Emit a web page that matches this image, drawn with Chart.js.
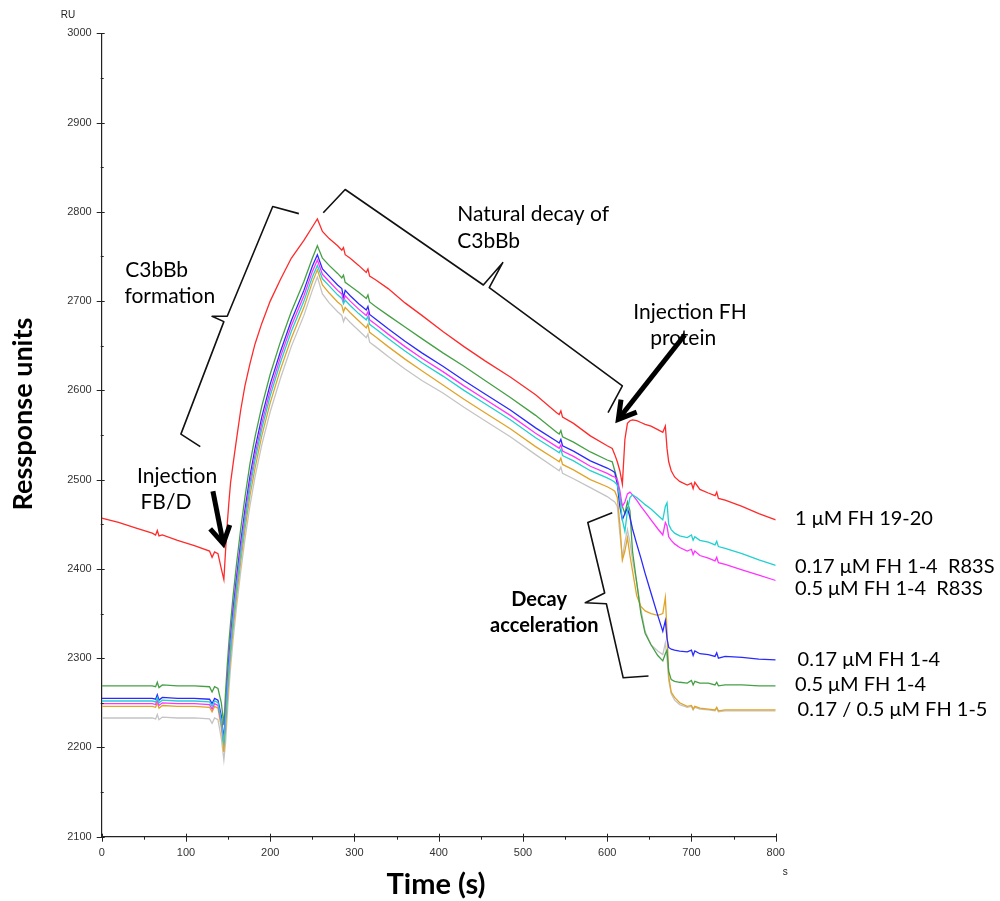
<!DOCTYPE html>
<html>
<head>
<meta charset="utf-8">
<script src="https://cdn.jsdelivr.net/npm/chart.js@4.4.1/dist/chart.umd.min.js"></script>
<style>
  body { margin: 0; background: #fff; }
  canvas { display: block; }
</style>
</head>
<body>
<canvas id="myChart" width="1000" height="901"></canvas>
<script>
// time points (s), shared by every sensorgram
const times = [
  0, 20, 40, 60, 64, 66, 68, 72, 90, 110,
  128, 131, 134, 138, 142, 145, 147, 149, 151, 153,
  156, 160, 165, 170, 176, 182, 190, 200, 212, 225,
  240, 250, 256, 262, 270, 280, 285, 287, 289, 295,
  305, 314, 316, 318, 325, 340, 360, 380, 405, 430,
  455, 485, 515, 540, 543, 545, 547, 560, 580, 600,
  606, 609, 612, 615, 618, 621, 624, 627, 630, 635,
  640, 645, 652, 660, 666, 669, 671, 673, 676, 680,
  686, 695, 700, 702, 704, 710, 720, 728, 730, 732,
  740, 760, 780, 800
];

// response units per series
const fh1920 = [
  2457, 2452, 2446, 2440, 2438, 2443, 2437, 2438, 2432, 2426,
  2420, 2413, 2419, 2417, 2400, 2388, 2420, 2450, 2475, 2497,
  2518, 2545, 2578, 2605, 2630, 2652, 2675, 2700, 2724, 2748,
  2768, 2783, 2792, 2778, 2770, 2762, 2757, 2760, 2752, 2748,
  2740, 2732, 2736, 2728, 2724, 2714, 2698, 2684, 2666, 2649,
  2633, 2615, 2595, 2575, 2573, 2577, 2570, 2563, 2549, 2538,
  2535, 2528, 2520, 2510, 2495, 2545, 2563, 2566, 2567, 2566,
  2564, 2562, 2560, 2556, 2553, 2560, 2535, 2520, 2510, 2503,
  2498, 2494, 2496, 2490, 2497, 2489, 2485, 2482, 2486, 2479,
  2477, 2470, 2462, 2455
];
const fh14r83s017 = [
  2252, 2252, 2252, 2252, 2251, 2256, 2250, 2253, 2252, 2252,
  2251, 2246, 2252, 2250, 2230, 2203, 2230, 2260, 2287, 2311,
  2342, 2377, 2417, 2453, 2491, 2522, 2557, 2594, 2631, 2666,
  2700, 2727, 2740, 2725, 2717, 2707, 2703, 2697, 2701, 2695,
  2686, 2679, 2683, 2674, 2669, 2658, 2644, 2631, 2616, 2600,
  2585, 2567, 2547, 2532, 2530, 2534, 2527, 2521, 2510, 2502,
  2499, 2497, 2494, 2480, 2455, 2442, 2465, 2480, 2483, 2480,
  2476, 2472, 2467, 2460, 2455, 2470, 2474, 2450, 2444, 2440,
  2437, 2435, 2438, 2432, 2436, 2432, 2430, 2427, 2431, 2425,
  2423, 2417, 2410, 2404
];
const fh14r83s05 = [
  2249, 2249, 2249, 2249, 2248, 2253, 2247, 2250, 2249, 2249,
  2248, 2243, 2249, 2247, 2228, 2205, 2235, 2265, 2293, 2317,
  2348, 2383, 2423, 2459, 2497, 2528, 2563, 2600, 2637, 2672,
  2706, 2733, 2746, 2730, 2722, 2712, 2708, 2700, 2706, 2700,
  2691, 2684, 2688, 2679, 2674, 2663, 2649, 2636, 2621, 2605,
  2590, 2572, 2552, 2537, 2535, 2539, 2532, 2526, 2515, 2507,
  2504, 2503, 2500, 2488, 2470, 2475, 2484, 2486, 2483, 2477,
  2470, 2464, 2455, 2445, 2438, 2452, 2448, 2436, 2432, 2428,
  2424, 2420, 2422, 2416, 2420, 2415, 2412, 2409, 2413, 2407,
  2405, 2399, 2393, 2387
];
const fh14017 = [
  2255, 2255, 2255, 2255, 2254, 2259, 2253, 2256, 2255, 2255,
  2254, 2249, 2255, 2253, 2235, 2208, 2240, 2272, 2300, 2324,
  2355, 2390, 2430, 2466, 2504, 2535, 2570, 2607, 2643, 2678,
  2712, 2739, 2752, 2736, 2728, 2718, 2714, 2704, 2712, 2706,
  2697, 2690, 2694, 2685, 2680, 2669, 2655, 2642, 2627, 2611,
  2596, 2578, 2558, 2543, 2541, 2545, 2538, 2532, 2521, 2513,
  2510, 2508, 2495, 2470, 2455, 2462, 2468, 2458, 2445, 2428,
  2412, 2395, 2373, 2348, 2330, 2342, 2322, 2312, 2310, 2309,
  2308, 2307, 2309, 2303, 2308, 2305, 2304, 2302, 2306, 2300,
  2302, 2301, 2299, 2298
];
const fh1405 = [
  2269, 2269, 2269, 2269, 2268, 2273, 2267, 2270, 2269, 2269,
  2268, 2262, 2268, 2266, 2250, 2225, 2262, 2292, 2318, 2340,
  2370, 2405, 2445, 2480, 2518, 2548, 2582, 2618, 2654, 2688,
  2722, 2748, 2762, 2748, 2740, 2731, 2726, 2729, 2721, 2717,
  2710, 2703, 2707, 2699, 2694, 2684, 2671, 2658, 2642, 2627,
  2611, 2592, 2572, 2553, 2551, 2555, 2548, 2542, 2531, 2522,
  2520, 2510, 2500, 2480, 2470, 2462, 2475, 2465, 2420, 2385,
  2350, 2328, 2315, 2303, 2297, 2305, 2309, 2285, 2276, 2274,
  2273, 2272, 2275, 2270, 2274, 2272, 2272, 2270, 2273, 2269,
  2270, 2270, 2269, 2269
];
const fh15017 = [
  2246, 2246, 2246, 2246, 2245, 2250, 2244, 2247, 2246, 2246,
  2245, 2240, 2246, 2244, 2222, 2195, 2220, 2250, 2278, 2302,
  2333, 2368, 2408, 2444, 2482, 2513, 2549, 2586, 2623, 2658,
  2693, 2721, 2735, 2718, 2709, 2699, 2695, 2688, 2693, 2687,
  2678, 2670, 2674, 2665, 2660, 2649, 2635, 2622, 2606, 2590,
  2575, 2557, 2537, 2522, 2520, 2524, 2517, 2511, 2500, 2492,
  2489, 2487, 2480, 2450, 2410, 2420, 2435, 2415, 2398, 2370,
  2358, 2353, 2350, 2348, 2350, 2368, 2330, 2280, 2262, 2256,
  2250, 2246, 2247, 2243, 2246, 2244, 2243, 2242, 2245, 2241,
  2242, 2242, 2242, 2242
];
const fh1505 = [
  2233, 2233, 2233, 2233, 2232, 2237, 2231, 2234, 2233, 2233,
  2232, 2227, 2233, 2231, 2210, 2186, 2205, 2236, 2265, 2290,
  2321, 2357, 2397, 2433, 2471, 2503, 2539, 2576, 2613, 2649,
  2684, 2712, 2727, 2708, 2698, 2688, 2684, 2677, 2682, 2676,
  2667, 2659, 2663, 2654, 2649, 2638, 2624, 2611, 2597, 2581,
  2566, 2548, 2528, 2512, 2510, 2514, 2507, 2501, 2491, 2481,
  2477, 2475, 2470, 2440, 2412, 2430, 2444, 2430, 2410, 2385,
  2355, 2330, 2315, 2308, 2304, 2317, 2300, 2275, 2260, 2253,
  2248, 2245, 2246, 2242, 2245, 2243, 2242, 2241, 2244, 2240,
  2241, 2241, 2241, 2241
];

const seriesNames = ["1 μM FH 19-20", "0.17 μM FH 1-4 R83S", "0.5 μM FH 1-4 R83S",
  "0.17 μM FH 1-4", "0.5 μM FH 1-4", "0.17 μM FH 1-5", "0.5 μM FH 1-5"];
const seriesValues = [fh1920, fh14r83s017, fh14r83s05, fh14017, fh1405, fh15017, fh1505];
const seriesColors = ["#ff2a2a", "#22d0d0", "#ff33ff", "#2a2aff", "#45a045", "#e0a428", "#c4c4c4"];

// labels written at the right hand end of the curves: [text, time, RU]
const endLabels = [
  ["1 μM FH 19-20", 823, 2456],
  ["0.17 μM FH 1-4  R83S", 823, 2403],
  ["0.5 μM FH 1-4  R83S", 823, 2378],
  ["0.17 μM FH 1-4", 826, 2299],
  ["0.5 μM FH 1-4", 823, 2270],
  ["0.17 / 0.5 μM FH 1-5", 826, 2242]
];
// annotation texts: [text, time, RU, bold]
const notes = [
  ["C3bBb", 28, 2735, false],
  ["formation", 27, 2705, false],
  ["Natural decay of", 422, 2797, false],
  ["C3bBb", 422, 2767, false],
  ["Injection FH", 631, 2687, false],
  ["protein", 651, 2658, false],
  ["Injection", 42, 2504, false],
  ["FB/D", 46, 2475, false],
  ["Decay", 486, 2366, true],
  ["acceleration", 461, 2336, true]
];
// brackets as polylines in data units [time, RU]
const brackets = [
  [[117, 2537], [94, 2551], [145, 2677], [131, 2683], [149, 2683], [203, 2806], [234, 2798]],
  [[263, 2799], [289, 2825], [453, 2718], [476, 2743], [460, 2715], [618, 2605], [601, 2575]],
  [[606, 2463], [577, 2452], [597, 2373], [574, 2362], [599, 2361], [619, 2278], [649, 2280]]
];
// arrows [fromTime, fromRU, toTime, toRU]
const arrows = [
  [132, 2487, 145, 2425],
  [692, 2662, 611, 2565]
];

const datasets = seriesValues.map((vals, i) => ({
  label: seriesNames[i],
  data: times.map((t, k) => ({ x: t, y: vals[k] })),
  borderColor: seriesColors[i],
  backgroundColor: seriesColors[i],
  borderWidth: 1.3,
  pointRadius: 0,
  tension: 0,
}));

const decor = {
  id: "decor",
  afterDraw(chart) {
    const ctx = chart.ctx;
    const x = chart.scales.x;
    const y = chart.scales.y;
    const a = chart.chartArea;
    ctx.save();
    // tick marks
    ctx.strokeStyle = "#222";
    ctx.lineWidth = 1;
    for (let v = 2100; v <= 3000; v += 50) {
      const py = Math.round(y.getPixelForValue(v)) + 0.5;
      const major = v % 100 == 0;
      ctx.beginPath();
      ctx.moveTo(a.left - (major ? 5 : 1), py);
      ctx.lineTo(a.left + (major ? 3 : 2), py);
      ctx.stroke();
    }
    for (let t = 0; t <= 800; t += 50) {
      const px = Math.round(x.getPixelForValue(t)) + 0.5;
      const major = t % 100 == 0;
      ctx.beginPath();
      ctx.moveTo(px, a.bottom - (major ? 3 : 0));
      ctx.lineTo(px, a.bottom + (major ? 5 : 3));
      ctx.stroke();
    }
    // unit labels
    ctx.fillStyle = "#222";
    ctx.font = "10px 'Liberation Sans', Arial";
    ctx.textBaseline = "middle";
    ctx.textAlign = "left";
    ctx.fillText("RU", a.left - 41, 15);
    ctx.fillText("s", a.right + 7, 872);

    // axis titles
    ctx.fillStyle = "#000";
    ctx.textAlign = "center";
    ctx.font = "bold 29px Lato";
    ctx.fillText("Time (s)", 436, 885);
    ctx.save();
    ctx.translate(23, 414);
    ctx.rotate(-Math.PI / 2);
    ctx.font = "bold 27px Lato";
    ctx.fillText("Ressponse units", 0, 0);
    ctx.restore();

    // brackets
    ctx.strokeStyle = "#111";
    ctx.lineWidth = 1.6;
    ctx.lineJoin = "round";
    brackets.forEach(b => {
      ctx.beginPath();
      b.forEach((p, i) => {
        const px = x.getPixelForValue(p[0]);
        const py = y.getPixelForValue(p[1]);
        if (i == 0) ctx.moveTo(px, py); else ctx.lineTo(px, py);
      });
      ctx.stroke();
    });

    // arrows
    ctx.fillStyle = "#000";
    ctx.strokeStyle = "#000";
    arrows.forEach(ar => {
      const x0 = x.getPixelForValue(ar[0]), y0 = y.getPixelForValue(ar[1]);
      const x1 = x.getPixelForValue(ar[2]), y1 = y.getPixelForValue(ar[3]);
      const ang = Math.atan2(y1 - y0, x1 - x0);
      const cs = Math.cos(ang), sn = Math.sin(ang);
      const hl = 20, hw = 10;
      const bx = x1 - hl * cs, by = y1 - hl * sn;
      ctx.lineWidth = 5;
      ctx.lineCap = "butt";
      ctx.beginPath();
      ctx.moveTo(x0, y0);
      ctx.lineTo(x1 - 4 * cs, y1 - 4 * sn);
      ctx.stroke();
      ctx.lineWidth = 5;
      ctx.lineJoin = "miter";
      ctx.beginPath();
      ctx.moveTo(bx + hw * sn, by - hw * cs);
      ctx.lineTo(x1 - 3 * cs, y1 - 3 * sn);
      ctx.lineTo(bx - hw * sn, by + hw * cs);
      ctx.stroke();
    });

    // texts
    ctx.textAlign = "left";
    ctx.textBaseline = "middle";
    notes.forEach(n => {
      ctx.font = n[3] ? "bold 20px Lato" : "21px Lato";
      ctx.fillText(n[0], x.getPixelForValue(n[1]), y.getPixelForValue(n[2]));
    });
    ctx.font = "20px Lato";
    endLabels.forEach(l => {
      ctx.fillText(l[0], x.getPixelForValue(l[1]), y.getPixelForValue(l[2]));
    });
    ctx.restore();
  }
};

const config = {
  type: "line",
  data: { datasets: datasets },
  options: {
    responsive: false,
    animation: false,
    events: [],
    layout: { padding: { left: 0, top: 33.3, right: 224.3, bottom: 0 } },
    scales: {
      x: {
        type: "linear",
        min: 0,
        max: 800,
        afterFit: s => { s.height = 64.3; },
        ticks: { stepSize: 100, padding: 10, color: "#333", font: { family: "'Liberation Sans', Arial", size: 11 }, maxRotation: 0,
          callback: v => String(v) },
        grid: { display: true, drawOnChartArea: false, drawTicks: false },
        border: { display: true, color: "#222", width: 1.2 },
      },
      y: {
        min: 2100,
        max: 3000,
        afterFit: s => { s.width = 101.7; },
        ticks: { stepSize: 100, padding: 10, color: "#333", font: { family: "'Liberation Sans', Arial", size: 11 },
          callback: v => String(v) },
        grid: { display: true, drawOnChartArea: false, drawTicks: false },
        border: { display: true, color: "#222", width: 1.2 },
      },
    },
    plugins: {
      legend: { display: false },
      tooltip: { enabled: false },
    },
  },
  plugins: [decor],
};

const myChart = new Chart(document.getElementById("myChart"), config);
</script>
</body>
</html>
